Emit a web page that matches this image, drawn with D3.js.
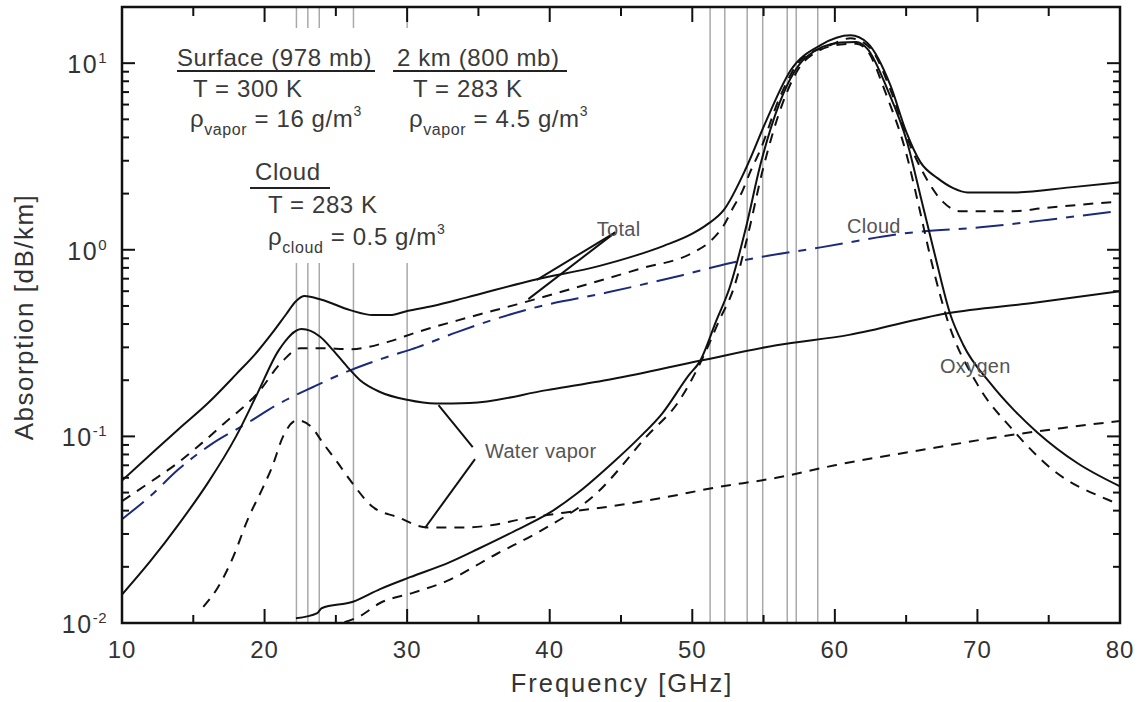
<!DOCTYPE html>
<html>
<head>
<meta charset="utf-8">
<script src="https://cdn.jsdelivr.net/npm/d3@7"></script>
<style>
  html, body { margin: 0; padding: 0; background: #fff; }
  svg { display: block; font-family: "Liberation Sans", Arial, Helvetica, sans-serif; }
</style>
</head>
<body>
<svg id="chart" width="1141" height="702"></svg>
<script>
// Absorption spectra [GHz, dB/km]
const surfaceTotal = [
  [10, 0.058], [12, 0.08], [14, 0.11], [16, 0.15], [18, 0.215], [19.5, 0.285],
  [20.5, 0.355], [21.5, 0.45], [22.2, 0.53], [22.8, 0.565], [24, 0.54], [26, 0.475],
  [27.6, 0.447], [28.8, 0.447], [30, 0.47], [31.8, 0.5], [34.2, 0.556], [38.8, 0.687],
  [43.5, 0.82], [46, 0.93], [48, 1.05], [50, 1.22], [51, 1.36], [52.2, 1.63], [53.8, 2.77],
  [55.2, 4.94], [56.9, 9.16], [59, 12.5], [61.1, 14.1], [62.3, 12.8], [63.9, 7.6],
  [65, 4.3], [66, 2.95], [67.2, 2.42], [68.3, 2.14], [69.3, 2.03], [72.8, 2.03],
  [76.5, 2.16], [80, 2.3]
];
const twoKmTotal = [
  [10, 0.045], [12, 0.057], [13.9, 0.072], [15.3, 0.088], [17.2, 0.118], [19.5, 0.17],
  [21.2, 0.25], [22.5, 0.297], [24, 0.297], [26, 0.293], [28.6, 0.32], [30.7, 0.362],
  [34.2, 0.432], [37.7, 0.51], [41.6, 0.62], [46.3, 0.79], [50.1, 0.97], [51.2, 1.1],
  [52.2, 1.35], [52.9, 1.7], [53.5, 2.05], [54.05, 2.6], [54.75, 3.4], [56.15, 6.6],
  [57.56, 10.3], [59.7, 12.5], [61.1, 13.6], [62.5, 12], [63.9, 7.2], [65.3, 3.6],
  [66.3, 2.5], [67.6, 1.8], [68.8, 1.61], [72.5, 1.61], [74.6, 1.67], [79.5, 1.8], [80, 1.81]
];
const cloudLiquid = [
  [10, 0.036], [12, 0.048], [14, 0.067], [16.2, 0.09], [18.8, 0.118], [21.1, 0.151],
  [23.4, 0.184], [26, 0.226], [28.3, 0.262], [30.7, 0.3], [33.5, 0.362], [38.8, 0.487],
  [44, 0.59], [49.3, 0.731], [52.6, 0.847], [59, 1.03], [65.5, 1.24], [70.2, 1.32],
  [75, 1.45], [80, 1.62]
];
const surfaceVapor = [
  [10, 0.0142], [12, 0.0215], [14, 0.034], [16, 0.056], [18, 0.1], [19.5, 0.17],
  [21, 0.29], [22.6, 0.376], [23.9, 0.342], [24.8, 0.29], [25.8, 0.236], [26.7, 0.2],
  [28.1, 0.173], [30, 0.157], [32, 0.15], [34.4, 0.151], [39.8, 0.177], [44.4, 0.203],
  [50.7, 0.256], [55.9, 0.308], [61, 0.35], [67.9, 0.457], [74, 0.52], [80, 0.6]
];
const twoKmVapor = [
  [15.7, 0.0122], [16.7, 0.0154], [17.8, 0.0226], [18.8, 0.0356], [19.9, 0.0535],
  [20.5, 0.0677], [21.3, 0.1], [22.3, 0.122], [23.3, 0.112], [24.1, 0.092], [25.1, 0.0728],
  [26, 0.0583], [27.6, 0.0418], [29.3, 0.037], [31.4, 0.0325], [34, 0.0325], [36, 0.0335],
  [38, 0.036], [41, 0.039], [45, 0.043], [48, 0.047], [51.5, 0.053], [55.9, 0.06],
  [60, 0.07], [67, 0.087], [71, 0.098], [76, 0.111], [80, 0.121]
];
const surfaceOxygen = [
  [22.2, 0.0106], [23.7, 0.0113], [24, 0.012], [26.2, 0.013], [28.1, 0.0152], [30.2, 0.0176],
  [33, 0.0212], [35, 0.025], [37.5, 0.031], [40, 0.039], [42, 0.05], [44.4, 0.072],
  [46.2, 0.097], [47.9, 0.133], [49.8, 0.215], [50.5, 0.25], [51.7, 0.42], [52.6, 0.62],
  [53.8, 1.35], [54.75, 2.8], [56.15, 6.2], [58, 10.8], [60.4, 12.9], [61.5, 13],
  [62.3, 11.9], [63.7, 7.2], [65.1, 3.7], [66, 1.95], [67, 0.95], [68.1, 0.45], [69, 0.31],
  [70.9, 0.193], [72.5, 0.14], [74.2, 0.105], [77, 0.072], [80, 0.054]
];
const twoKmOxygen = [
  [25.6, 0.0101], [26.7, 0.0109], [28.1, 0.0128], [30.4, 0.0145], [32.8, 0.0168],
  [36.3, 0.0235], [39.3, 0.031], [43.3, 0.0497], [46.8, 0.1], [49.1, 0.156],
  [50.75, 0.265], [51.9, 0.42], [52.9, 0.62], [53.9, 1.2], [54.9, 2.6], [56.3, 6.0],
  [58, 10.5], [60.4, 12.6], [61.5, 12.7], [62.3, 11.6], [63.6, 6.8], [65, 3.3],
  [65.9, 1.7], [66.8, 0.85], [67.9, 0.42], [70, 0.19], [72.5, 0.108], [75.3, 0.066],
  [79.2, 0.0456], [80, 0.043]
];

// Radiometer channel frequencies [GHz]
const kBandChannels = [22.235, 23.035, 23.835, 26.235, 30.0];
const vBandChannels = [51.25, 52.28, 53.85, 54.94, 56.66, 57.29, 58.8];

// Axis ticks
const xMajorTicks = [10, 20, 30, 40, 50, 60, 70, 80];
const xMinorTicks = [15, 25, 35, 45, 55, 65, 75];
const yMajorTicks = [0.01, 0.1, 1, 10];
const yTickExponents = ["-2", "-1", "0", "1"];

// Curve labels: [text, GHz, dB/km]
const curveLabels = [
  ["Total", 43.3, 1.18],
  ["Water vapor", 35.46, 0.0766],
  ["Cloud", 60.85, 1.23],
  ["Oxygen", 67.37, 0.218]
];
// Leader lines: [from GHz, from dB/km, to GHz, to dB/km]
const leaders = [
  [44.6, 1.24, 39.1, 0.69],
  [44.6, 1.24, 38.5, 0.544],
  [34.6, 0.0877, 32.2, 0.147],
  [34.76, 0.0756, 31.25, 0.0323]
];

const svg = d3.select("#chart");
const W = 1141, H = 702;
const plot = { left: 122, right: 1120, top: 7, bottom: 623 };

svg.append("rect").attr("width", W).attr("height", H).attr("fill", "#fff");

const x = d3.scaleLinear().domain([10, 80]).range([plot.left, plot.right]);
const y = d3.scaleLog().domain([0.01, 20]).range([plot.bottom, plot.top]);

svg.append("clipPath").attr("id", "plotClip")
  .append("rect")
  .attr("x", plot.left).attr("y", plot.top)
  .attr("width", plot.right - plot.left).attr("height", plot.bottom - plot.top);

// Channel markers
const chan = svg.append("g").attr("stroke", "#a9a9a9").attr("stroke-width", 1.5);
kBandChannels.forEach(f => {
  chan.append("line").attr("x1", x(f)).attr("x2", x(f)).attr("y1", plot.top).attr("y2", 28);
  chan.append("line").attr("x1", x(f)).attr("x2", x(f)).attr("y1", 263).attr("y2", plot.bottom);
});
vBandChannels.forEach(f => {
  chan.append("line").attr("x1", x(f)).attr("x2", x(f)).attr("y1", plot.top).attr("y2", plot.bottom);
});

// Curves
const line = d3.line()
  .x(d => x(d[0]))
  .y(d => y(d[1]))
  .curve(d3.curveMonotoneX);

const curves = svg.append("g").attr("clip-path", "url(#plotClip)").attr("fill", "none");
const series = [
  { data: cloudLiquid, color: "#1c2a7c", dash: "28,9,8,9" },
  { data: twoKmVapor, color: "#111", dash: "10,8" },
  { data: twoKmOxygen, color: "#111", dash: "10,8" },
  { data: twoKmTotal, color: "#111", dash: "10,8" },
  { data: surfaceVapor, color: "#111", dash: null },
  { data: surfaceOxygen, color: "#111", dash: null },
  { data: surfaceTotal, color: "#111", dash: null }
];
series.forEach(s => {
  curves.append("path")
    .attr("d", line(s.data))
    .attr("stroke", s.color)
    .attr("stroke-width", 2)
    .attr("stroke-linejoin", "round")
    .attr("stroke-dasharray", s.dash);
});

// Leader lines and curve labels
svg.append("g").attr("stroke", "#111").attr("stroke-width", 2)
  .selectAll("line").data(leaders).join("line")
  .attr("x1", d => x(d[0])).attr("y1", d => y(d[1]))
  .attr("x2", d => x(d[2])).attr("y2", d => y(d[3]));

svg.append("g").attr("font-size", 20).attr("fill", "#555").attr("letter-spacing", 0.3)
  .selectAll("text").data(curveLabels).join("text")
  .attr("x", d => x(d[1])).attr("y", d => y(d[2]))
  .text(d => d[0]);

// Condition annotations
const ann = svg.append("g").attr("font-size", 24).attr("fill", "#3a3a3a").attr("letter-spacing", 0.6);

function heading(txt, tx, ty, x1, x2, uy) {
  ann.append("text").attr("x", tx).attr("y", ty).text(txt);
  ann.append("line").attr("x1", x1).attr("x2", x2).attr("y1", uy).attr("y2", uy)
    .attr("stroke", "#222").attr("stroke-width", 2);
}
function density(tx, ty, sub, rest) {
  const t = ann.append("text").attr("x", tx).attr("y", ty);
  t.append("tspan").text("\u03C1");
  t.append("tspan").attr("font-size", 16).attr("dy", 8).text(sub);
  t.append("tspan").attr("dy", -8).text(" = " + rest);
  t.append("tspan").attr("font-size", 14).attr("dy", -11).text("3");
}

heading("Surface (978 mb)", 177, 66, 177, 375, 71);
ann.append("text").attr("x", 193).attr("y", 97).text("T = 300 K");
density(190, 127, "vapor", "16 g/m");

heading("2 km (800 mb)", 397, 66, 393, 567, 71);
ann.append("text").attr("x", 413).attr("y", 97).text("T = 283 K");
density(409, 127, "vapor", "4.5 g/m");

heading("Cloud", 255, 180, 250, 330, 188);
ann.append("text").attr("x", 268).attr("y", 213).text("T = 283 K");
density(268, 245, "cloud", "0.5 g/m");

// Frame
svg.append("rect")
  .attr("x", plot.left).attr("y", plot.top)
  .attr("width", plot.right - plot.left).attr("height", plot.bottom - plot.top)
  .attr("fill", "none").attr("stroke", "#111").attr("stroke-width", 2.5);

// Ticks
const ticks = svg.append("g").attr("stroke", "#111").attr("stroke-width", 2);
xMajorTicks.forEach(v => {
  ticks.append("line").attr("x1", x(v)).attr("x2", x(v)).attr("y1", plot.bottom).attr("y2", plot.bottom - 14);
  ticks.append("line").attr("x1", x(v)).attr("x2", x(v)).attr("y1", plot.top).attr("y2", plot.top + 15);
});
xMinorTicks.forEach(v => {
  ticks.append("line").attr("x1", x(v)).attr("x2", x(v)).attr("y1", plot.bottom).attr("y2", plot.bottom - 8);
  ticks.append("line").attr("x1", x(v)).attr("x2", x(v)).attr("y1", plot.top).attr("y2", plot.top + 9);
});
const yMinor = [];
yMajorTicks.forEach(d => { for (let k = 2; k <= 9; k++) if (d * k <= 20) yMinor.push(d * k); });
yMajorTicks.forEach(v => {
  ticks.append("line").attr("x1", plot.left).attr("x2", plot.left + 13).attr("y1", y(v)).attr("y2", y(v));
  ticks.append("line").attr("x1", plot.right).attr("x2", plot.right - 13).attr("y1", y(v)).attr("y2", y(v));
});
yMinor.forEach(v => {
  ticks.append("line").attr("x1", plot.left).attr("x2", plot.left + 7).attr("y1", y(v)).attr("y2", y(v));
  ticks.append("line").attr("x1", plot.right).attr("x2", plot.right - 7).attr("y1", y(v)).attr("y2", y(v));
});

// Tick labels
const lbl = svg.append("g").attr("fill", "#333");
lbl.selectAll("text.xt").data(xMajorTicks).join("text")
  .attr("class", "xt")
  .attr("x", d => x(d)).attr("y", 658)
  .attr("text-anchor", "middle").attr("font-size", 24).attr("letter-spacing", 1)
  .text(d => d);
yMajorTicks.forEach((v, i) => {
  const t = lbl.append("text")
    .attr("x", 107).attr("y", y(v) + 10)
    .attr("text-anchor", "end").attr("font-size", 25).attr("letter-spacing", 1.5);
  t.append("tspan").text("10");
  t.append("tspan").attr("font-size", 15).attr("dy", -10).attr("letter-spacing", 0.5).text(yTickExponents[i]);
});

// Axis titles
svg.append("text")
  .attr("x", (plot.left + plot.right) / 2 + 1).attr("y", 692)
  .attr("text-anchor", "middle").attr("font-size", 25.5).attr("letter-spacing", 2)
  .attr("fill", "#333")
  .text("Frequency [GHz]");
svg.append("text")
  .attr("transform", "translate(33,317) rotate(-90)")
  .attr("text-anchor", "middle").attr("font-size", 26).attr("letter-spacing", 1.5)
  .attr("fill", "#333")
  .text("Absorption [dB/km]");
</script>
</body>
</html>
